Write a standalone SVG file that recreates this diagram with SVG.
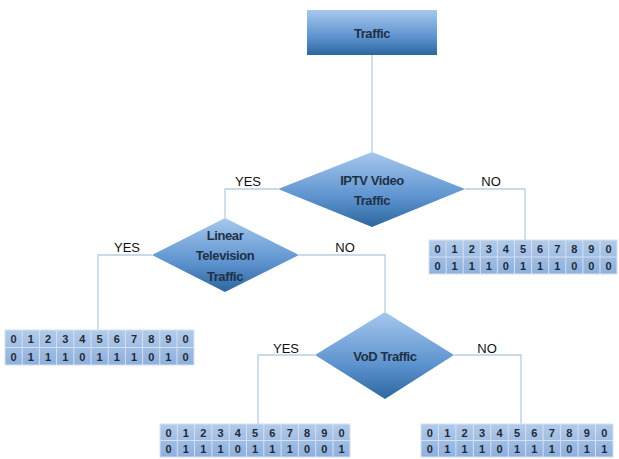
<svg xmlns="http://www.w3.org/2000/svg" width="619" height="459" viewBox="0 0 619 459">
<defs>
<linearGradient id="node" x1="0" y1="0" x2="0" y2="1">
<stop offset="0" stop-color="#a6c8ee"/>
<stop offset="0.6" stop-color="#5d93cf"/>
<stop offset="1" stop-color="#2d679f"/>
</linearGradient>
<linearGradient id="cell" x1="0" y1="0" x2="0" y2="1">
<stop offset="0" stop-color="#b3cbea"/>
<stop offset="1" stop-color="#8eb0dc"/>
</linearGradient>
</defs>
<style>
.conn{fill:none;stroke:#b7cfdf;stroke-width:1.3}
.shape{fill:url(#node)}
.nt{font-family:"Liberation Sans",Arial,sans-serif;font-weight:bold;font-size:13px;fill:#1f3146;text-anchor:middle;letter-spacing:-0.4px}
.lbl{font-family:"Liberation Sans",Arial,sans-serif;font-size:13px;fill:#111;text-anchor:middle}
.tb{fill:url(#cell);stroke:#d4e1f1;stroke-width:1}
.gl{stroke:#d4e1f1;stroke-width:1}
.ct{font-family:"Liberation Sans",Arial,sans-serif;font-weight:bold;font-size:11px;fill:#1f2b38;text-anchor:middle}
</style>
<rect width="619" height="459" fill="#fff"/>
<g id="connectors">
<path class="conn" d="M372,55 V152"/>
<path class="conn" d="M278,189 H225 V218"/>
<path class="conn" d="M465,189 H525 V240"/>
<path class="conn" d="M152,255 H98 V330"/>
<path class="conn" d="M299,255 H385 V312"/>
<path class="conn" d="M315,355 H258 V424"/>
<path class="conn" d="M454,355 H521 V424"/>
<text class="lbl" x="248" y="186">YES</text>
<text class="lbl" x="491" y="186">NO</text>
<text class="lbl" x="127" y="252">YES</text>
<text class="lbl" x="345" y="252">NO</text>
<text class="lbl" x="286" y="353">YES</text>
<text class="lbl" x="487" y="353">NO</text>
</g>
<g id="traffic">
<rect class="shape" x="307" y="10" width="130" height="45"/>
<text class="nt" x="372" y="38">Traffic</text>
</g>
<g id="iptv">
<polygon class="shape" points="372,152 465,189 372,227 278,189"/>
<text class="nt" x="372" y="185">IPTV Video</text>
<text class="nt" x="372" y="205">Traffic</text>
</g>
<g id="linear">
<polygon class="shape" points="225,218 299,255 225,292 152,255"/>
<text class="nt" x="225" y="240">Linear</text>
<text class="nt" x="225" y="260">Television</text>
<text class="nt" x="225" y="281">Traffic</text>
</g>
<g id="vod">
<polygon class="shape" points="385,312 454,355 385,399 315,355"/>
<text class="nt" x="385" y="361">VoD Traffic</text>
</g>
<g id="table-iptv-no" transform="translate(429,240)">
<rect class="tb" x="0" y="0" width="188" height="34"/>
<path class="gl" d="M0,17H188M17.1,0V34M34.2,0V34M51.3,0V34M68.4,0V34M85.5,0V34M102.6,0V34M119.7,0V34M136.8,0V34M153.9,0V34M171,0V34"/>
<text class="ct" x="8.5" y="13">0</text><text class="ct" x="25.6" y="13">1</text><text class="ct" x="42.7" y="13">2</text><text class="ct" x="59.8" y="13">3</text><text class="ct" x="76.9" y="13">4</text><text class="ct" x="94" y="13">5</text><text class="ct" x="111.1" y="13">6</text><text class="ct" x="128.2" y="13">7</text><text class="ct" x="145.3" y="13">8</text><text class="ct" x="162.4" y="13">9</text><text class="ct" x="179.5" y="13">0</text>
<text class="ct" x="8.5" y="30">0</text><text class="ct" x="25.6" y="30">1</text><text class="ct" x="42.7" y="30">1</text><text class="ct" x="59.8" y="30">1</text><text class="ct" x="76.9" y="30">0</text><text class="ct" x="94" y="30">1</text><text class="ct" x="111.1" y="30">1</text><text class="ct" x="128.2" y="30">1</text><text class="ct" x="145.3" y="30">0</text><text class="ct" x="162.4" y="30">0</text><text class="ct" x="179.5" y="30">0</text>
</g>
<g id="table-linear-yes" transform="translate(5,330)">
<rect class="tb" x="0" y="0" width="189" height="35"/>
<path class="gl" d="M0,17.5H189M17.2,0V35M34.4,0V35M51.6,0V35M68.8,0V35M86,0V35M103.2,0V35M120.4,0V35M137.6,0V35M154.8,0V35M172,0V35"/>
<text class="ct" x="8.6" y="13">0</text><text class="ct" x="25.8" y="13">1</text><text class="ct" x="43" y="13">2</text><text class="ct" x="60.2" y="13">3</text><text class="ct" x="77.4" y="13">4</text><text class="ct" x="94.6" y="13">5</text><text class="ct" x="111.8" y="13">6</text><text class="ct" x="129" y="13">7</text><text class="ct" x="146.2" y="13">8</text><text class="ct" x="163.4" y="13">9</text><text class="ct" x="180.6" y="13">0</text>
<text class="ct" x="8.6" y="31">0</text><text class="ct" x="25.8" y="31">1</text><text class="ct" x="43" y="31">1</text><text class="ct" x="60.2" y="31">1</text><text class="ct" x="77.4" y="31">0</text><text class="ct" x="94.6" y="31">1</text><text class="ct" x="111.8" y="31">1</text><text class="ct" x="129" y="31">1</text><text class="ct" x="146.2" y="31">0</text><text class="ct" x="163.4" y="31">1</text><text class="ct" x="180.6" y="31">0</text>
</g>
<g id="table-vod-yes" transform="translate(160,424)">
<rect class="tb" x="0" y="0" width="190" height="33"/>
<path class="gl" d="M0,16.5H190M17.3,0V33M34.6,0V33M51.9,0V33M69.2,0V33M86.5,0V33M103.8,0V33M121.1,0V33M138.4,0V33M155.7,0V33M173,0V33"/>
<text class="ct" x="8.6" y="12.5">0</text><text class="ct" x="25.9" y="12.5">1</text><text class="ct" x="43.2" y="12.5">2</text><text class="ct" x="60.5" y="12.5">3</text><text class="ct" x="77.8" y="12.5">4</text><text class="ct" x="95.1" y="12.5">5</text><text class="ct" x="112.4" y="12.5">6</text><text class="ct" x="129.7" y="12.5">7</text><text class="ct" x="147" y="12.5">8</text><text class="ct" x="164.3" y="12.5">9</text><text class="ct" x="181.6" y="12.5">0</text>
<text class="ct" x="8.6" y="29">0</text><text class="ct" x="25.9" y="29">1</text><text class="ct" x="43.2" y="29">1</text><text class="ct" x="60.5" y="29">1</text><text class="ct" x="77.8" y="29">0</text><text class="ct" x="95.1" y="29">1</text><text class="ct" x="112.4" y="29">1</text><text class="ct" x="129.7" y="29">1</text><text class="ct" x="147" y="29">0</text><text class="ct" x="164.3" y="29">0</text><text class="ct" x="181.6" y="29">1</text>
</g>
<g id="table-vod-no" transform="translate(421,424)">
<rect class="tb" x="0" y="0" width="192" height="33"/>
<path class="gl" d="M0,16.5H192M17.45,0V33M34.9,0V33M52.35,0V33M69.8,0V33M87.25,0V33M104.7,0V33M122.15,0V33M139.6,0V33M157.05,0V33M174.5,0V33"/>
<text class="ct" x="8.7" y="12.5">0</text><text class="ct" x="26.2" y="12.5">1</text><text class="ct" x="43.6" y="12.5">2</text><text class="ct" x="61.1" y="12.5">3</text><text class="ct" x="78.5" y="12.5">4</text><text class="ct" x="96" y="12.5">5</text><text class="ct" x="113.4" y="12.5">6</text><text class="ct" x="130.9" y="12.5">7</text><text class="ct" x="148.3" y="12.5">8</text><text class="ct" x="165.8" y="12.5">9</text><text class="ct" x="183.2" y="12.5">0</text>
<text class="ct" x="8.7" y="29">0</text><text class="ct" x="26.2" y="29">1</text><text class="ct" x="43.6" y="29">1</text><text class="ct" x="61.1" y="29">1</text><text class="ct" x="78.5" y="29">0</text><text class="ct" x="96" y="29">1</text><text class="ct" x="113.4" y="29">1</text><text class="ct" x="130.9" y="29">1</text><text class="ct" x="148.3" y="29">0</text><text class="ct" x="165.8" y="29">1</text><text class="ct" x="183.2" y="29">1</text>
</g>
</svg>
